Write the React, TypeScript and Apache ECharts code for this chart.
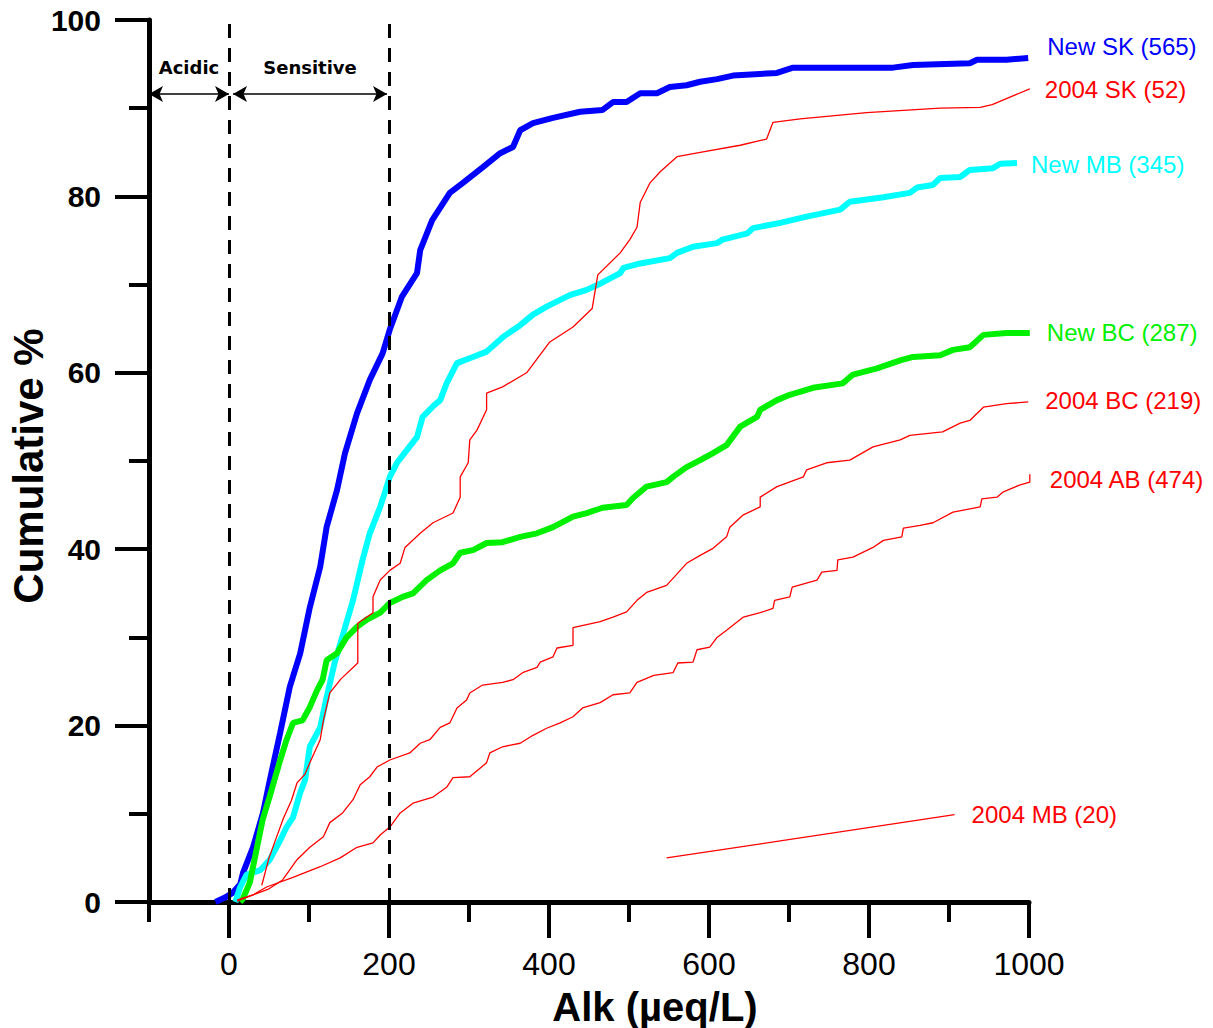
import React, { useEffect, useRef } from "react";
import * as echarts from "echarts";

const FONT = "'Liberation Sans', Arial, sans-serif";

// x: Alk (µeq/L), y: cumulative %
const newSK = [[-17,0],[-5,0.5],[4,1.0],[14,2.0],[17.5,3.3],[30,6.2],[42.5,10.1],[51,13.8],[64,19.2],[76,24.4],[89,28.2],[101,33.4],[114,38],[122,42.5],[135,46.7],[145,50.9],[160,55.4],[176,59.2],[192,62.2],[201,64.9],[216,68.6],[235,71.3],[239,73.9],[254,77.3],[276,80.4],[292,81.5],[317,83.3],[339,84.9],[355,85.6],[364,87.5],[380,88.3],[405,88.9],[439,89.6],[467,89.8],[480,90.7],[497,90.7],[514,91.7],[535,91.7],[551,92.4],[572,92.6],[589,93.0],[610,93.3],[630,93.7],[685,94.0],[705,94.6],[830,94.6],[855,94.9],[926,95.1],[935,95.5],[972,95.5],[999,95.7]];

const newMB = [[8,0],[14,1.7],[22,3.1],[39,3.6],[51,4.8],[64,7.0],[72,8.5],[80,9.6],[89,12.4],[95,13.8],[101,17.6],[114,19.8],[122,23.2],[132,27.1],[143,30.5],[155,34.2],[167,38.8],[176,41.8],[189,44.8],[201,48.2],[210,49.8],[222,51.2],[235,52.7],[242,55.0],[255,56.2],[264,56.9],[272,58.8],[285,61.1],[305,61.8],[322,62.4],[343,64.1],[364,65.4],[380,66.6],[397,67.5],[426,68.8],[447,69.4],[464,70.1],[489,71.3],[493,71.9],[514,72.4],[551,73.0],[560,73.6],[580,74.3],[610,74.7],[617,75.1],[648,75.8],[655,76.4],[689,77.0],[722,77.7],[764,78.5],[776,79.4],[818,79.9],[851,80.4],[860,81.0],[880,81.3],[889,82.1],[914,82.2],[926,83.0],[955,83.2],[964,83.7],[985,83.8]];

const newBC = [[14,0],[17,0.3],[26,2.2],[35,6.2],[42,9.3],[51,12.0],[64,16.1],[72,18.4],[80,20.3],[92,20.6],[101,22.1],[110,24.0],[117,25.2],[122,27.4],[135,28.2],[147,30.0],[160,31.2],[172,32.0],[189,32.8],[201,33.9],[217,34.6],[230,35.0],[247,36.5],[264,37.6],[280,38.4],[289,39.6],[305,39.9],[322,40.7],[342,40.8],[364,41.4],[385,41.8],[405,42.5],[430,43.7],[447,44.1],[467,44.7],[497,45.0],[505,45.8],[522,47.1],[547,47.6],[555,48.2],[572,49.3],[589,50.1],[605,50.9],[622,51.8],[639,53.9],[660,55.0],[664,55.8],[685,56.9],[701,57.5],[730,58.3],[767,58.8],[780,59.8],[810,60.5],[839,61.4],[855,61.8],[889,62.0],[905,62.6],[926,62.9],[943,64.3],[972,64.5],[1001,64.5]];

const sk2004 = [[41,1.9],[50,5],[60,7.5],[68,9.5],[78,11.5],[85,13.5],[95,14.5],[101,15.8],[114,18.4],[118,20.6],[126,23.7],[140,25.3],[161,27.1],[161,31.6],[180,32.8],[180,34.6],[189,36.5],[201,37.6],[214,38.4],[220,40.2],[239,41.8],[255,43.0],[280,44.1],[289,45.9],[289,48.2],[299,49.8],[301,52.4],[310,53.5],[322,55.8],[322,57.7],[342,58.4],[372,60.0],[401,63.5],[430,65.2],[454,67.3],[461,71.1],[489,73.6],[501,75.1],[510,76.5],[514,79.3],[526,81.5],[539,82.8],[560,84.5],[589,85.0],[639,85.8],[672,86.5],[680,88.4],[714,88.8],[797,89.5],[889,90.0],[939,90.1],[954,90.4],[1001,92.2]];

const bc2004 = [[10,0.2],[30,0.8],[50,1.5],[67,2.5],[85,4.8],[101,6.2],[118,7.4],[126,9.0],[142,10.1],[155,11.6],[164,13.3],[176,14.2],[185,15.3],[201,16.1],[226,16.9],[239,18.0],[251,18.4],[264,19.8],[276,20.3],[285,22.0],[297,22.9],[301,23.7],[317,24.6],[342,24.9],[355,25.2],[367,26.0],[385,26.6],[389,27.2],[405,27.8],[410,28.8],[430,29.1],[430,31.1],[464,31.8],[480,32.3],[497,32.9],[510,34.2],[522,35.1],[547,35.9],[572,38.4],[589,39.3],[605,40.1],[622,41.4],[626,42.5],[643,43.9],[664,44.8],[664,45.9],[685,47.1],[718,48.2],[722,49.0],[747,49.8],[776,50.1],[805,51.6],[839,52.4],[851,52.9],[892,53.3],[914,54.3],[926,54.6],[943,56.1],[972,56.5],[999,56.7]];

const ab2004 = [[10,0.1],[30,0.8],[47,1.7],[80,2.8],[114,4.0],[139,5.0],[160,6.2],[180,6.7],[189,7.6],[201,8.5],[214,10.1],[230,11.2],[255,11.9],[272,13.0],[280,14.1],[301,14.2],[322,15.8],[326,16.9],[342,17.6],[364,18.0],[380,18.9],[397,19.7],[414,20.3],[430,21.0],[442,22.0],[464,22.6],[480,23.5],[501,23.7],[510,24.9],[531,25.7],[555,26.0],[561,27.1],[580,27.2],[585,28.6],[601,28.9],[610,30.0],[622,30.8],[643,32.3],[664,32.8],[680,33.3],[682,34.2],[701,34.6],[704,35.7],[735,36.5],[741,37.4],[760,37.6],[761,38.8],[780,39.1],[805,40.2],[818,41.0],[841,41.4],[843,42.4],[864,42.7],[880,43.0],[905,44.2],[939,44.8],[941,45.7],[960,45.9],[968,46.5],[989,47.3],[1001,47.6],[1001,48.5]];

const mb2004 = [[547,5.0],[907,9.9]];

const xMajorTicks = [0, 200, 400, 600, 800, 1000];
const xMinorTicks = [-100, 100, 300, 500, 700, 900];
const thresholds = [0, 200];
const arrowLevel = 91.6;

function lineSeries(name: string, data: number[][], color: string, width: number, offset: number[], z: number) {
  return {
    type: "line",
    name,
    data,
    showSymbol: false,
    symbol: "none",
    z,
    lineStyle: { color, width },
    itemStyle: { color },
    endLabel: {
      show: true,
      formatter: name,
      color,
      fontFamily: FONT,
      fontSize: 24,
      distance: 0,
      offset,
      align: "left",
      verticalAlign: "middle",
    },
  };
}

const arrowLabel = (text: string) => ({
  show: true,
  formatter: text,
  position: "insideMiddleTop",
  distance: 18,
  color: "#000",
  fontFamily: "'DejaVu Sans', sans-serif",
  fontWeight: "bold",
  fontSize: 18,
});

export default function App() {
  const ref = useRef<HTMLDivElement>(null);
  useEffect(() => {
    const chart = echarts.init(ref.current!, null, { renderer: "svg" });
    const skSeries: any = lineSeries("New SK (565)", newSK, "#0000ff", 6, [19, -11], 3);
    skSeries.markLine = {
      silent: true,
      symbol: "none",
      animation: false,
      label: { show: false },
      data: [
        ...thresholds.map((v) => ({
          xAxis: v,
          lineStyle: { color: "#000", width: 3, type: [14, 10] },
        })),
        [
          {
            coord: [-100, arrowLevel],
            symbol: "arrow",
            symbolSize: [12, 14],
            lineStyle: { color: "#000", width: 1.5, type: "solid" },
            label: arrowLabel("Acidic"),
          },
          { coord: [0, arrowLevel], symbol: "arrow", symbolSize: [12, 14] },
        ],
        [
          {
            coord: [5, arrowLevel],
            symbol: "arrow",
            symbolSize: [12, 14],
            lineStyle: { color: "#000", width: 1.5, type: "solid" },
            label: arrowLabel("Sensitive"),
          },
          { coord: [197.5, arrowLevel], symbol: "arrow", symbolSize: [12, 14] },
        ],
      ],
    };

    const option: any = {
      animation: false,
      backgroundColor: "#fff",
      grid: { left: 149, top: 20, width: 880, height: 882, containLabel: false },
      xAxis: [
        {
          type: "value",
          min: -100,
          max: 1000,
          axisLine: { show: true, onZero: false, lineStyle: { color: "#000", width: 5 } },
          axisTick: { show: true, customValues: xMajorTicks, length: 36, lineStyle: { color: "#000", width: 4 } },
          axisLabel: {
            show: true,
            customValues: xMajorTicks,
            formatter: (v: number) => String(v),
            margin: 46,
            color: "#000",
            fontFamily: FONT,
            fontSize: 32,
          },
          splitLine: { show: false },
        },
        {
          type: "value",
          min: -100,
          max: 1000,
          position: "bottom",
          axisLine: { show: false, onZero: false },
          axisTick: { show: true, customValues: xMinorTicks, length: 20, lineStyle: { color: "#000", width: 4 } },
          axisLabel: { show: false },
          splitLine: { show: false },
        },
      ],
      yAxis: {
        type: "value",
        min: 0,
        max: 100,
        interval: 20,
        axisLine: { show: true, onZero: false, lineStyle: { color: "#000", width: 5 } },
        axisTick: { show: true, length: 34, lineStyle: { color: "#000", width: 4 } },
        minorTick: { show: true, splitNumber: 2, length: 20, lineStyle: { color: "#000", width: 4 } },
        axisLabel: { margin: 48, color: "#000", fontFamily: FONT, fontWeight: "bold", fontSize: 30 },
        splitLine: { show: false },
        minorSplitLine: { show: false },
      },
      graphic: [
        {
          type: "text",
          x: 655,
          y: 1007,
          style: {
            text: "Alk (µeq/L)",
            fill: "#000",
            font: `bold 40px ${FONT}`,
            textAlign: "center",
            textVerticalAlign: "middle",
          },
        },
        {
          type: "text",
          x: 28,
          y: 466,
          rotation: Math.PI / 2,
          style: {
            text: "Cumulative %",
            fill: "#000",
            font: `bold 42px ${FONT}`,
            textAlign: "center",
            textVerticalAlign: "middle",
          },
        },
      ],
      series: [
        skSeries,
        lineSeries("New MB (345)", newMB, "#00ffff", 6, [14, 2], 3),
        lineSeries("New BC (287)", newBC, "#00f000", 6, [17, -1], 3),
        lineSeries("2004 SK (52)", sk2004, "#ff0000", 1.3, [15, 1], 4),
        lineSeries("2004 BC (219)", bc2004, "#ff0000", 1.3, [17, -1], 4),
        lineSeries("2004 AB (474)", ab2004, "#ff0000", 1.3, [20, 5], 4),
        lineSeries("2004 MB (20)", mb2004, "#ff0000", 1.3, [17, 0], 4),
      ],
    };
    chart.setOption(option);
    return () => chart.dispose();
  }, []);
  return (
    <div
      ref={ref}
      style={{ position: "absolute", left: 0, top: 0, width: 1213, height: 1028, background: "#fff" }}
    />
  );
}
